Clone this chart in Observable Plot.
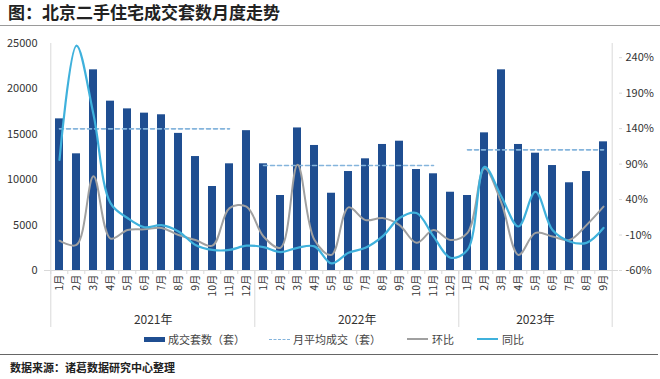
<!DOCTYPE html>
<html><head><meta charset="utf-8">
<script src="https://cdn.jsdelivr.net/npm/d3@7"></script>
<script src="https://cdn.jsdelivr.net/npm/@observablehq/plot@0.6"></script>
<style>
html,body{margin:0;padding:0;background:#fff;}
body{width:660px;height:379px;position:relative;overflow:hidden;font-family:"Noto Sans CJK SC","Noto Sans",sans-serif;color:#333;}
#title{position:absolute;left:0;top:0;width:660px;height:25px;border-bottom:1.5px solid #9a9a9a;}
#title span{position:absolute;left:8px;top:2px;font-size:17px;font-weight:bold;color:#222;line-height:20px;}
#chart{position:absolute;left:0;top:28px;}
.lg{position:absolute;top:331px;height:16px;display:flex;align-items:center;font-size:11px;color:#444;white-space:nowrap;}
.sw{display:inline-block;width:21px;margin-right:3px;}
#bottomline{position:absolute;left:0;top:354px;width:658px;border-top:1.5px solid #666;}
#source{position:absolute;left:10px;top:359px;font-size:11px;font-weight:bold;color:#222;line-height:16px;}
</style></head>
<body>
<div id="title"><span>图：北京二手住宅成交套数月度走势</span></div>
<div id="chart"></div>
<div class="lg" style="left:144px"><span class="sw" style="height:5px;background:#1f4e91"></span>成交套数（套）</div>
<div class="lg" style="left:269px"><span class="sw" style="border-top:1.5px dashed #84b4dc"></span>月平均成交（套）</div>
<div class="lg" style="left:407px"><span class="sw" style="border-top:2px solid #a0a0a0;margin-right:4px"></span>环比</div>
<div class="lg" style="left:477px"><span class="sw" style="border-top:2px solid #3fb1dc;margin-right:4px"></span>同比</div>
<div id="bottomline"></div>
<div id="source">数据来源：诸葛数据研究中心整理</div>
<script>
// ---- data ----
const years = [2021, 2022, 2023];
const yearLabels = ["2021年", "2022年", "2023年"];
const monthsPerYear = [12, 12, 9];
const monthLabels = ["1月","2月","3月","4月","5月","6月","7月","8月","9月","10月","11月","12月"];
// 成交套数（套）
const volume = [16700, 12850, 22100, 18650, 17800, 17330, 17150, 15100, 12550, 9250, 11750, 15400,
                11750, 8260, 15700, 13770, 8510, 10900, 12300, 13880, 14240, 11120, 10650, 8620,
                8260, 15160, 22100, 13880, 12920, 11560, 9660, 10900, 14170];
// 环比 (%)
const mom = [-18, -24, 73, -15, -3, -2, 0, -10, -17, -25, 28, 30,
             -12, -28, 89, -17, -38, 29, 11, 14, 4, -21, -3, -17,
             -7, 84, 35, -38, -7, -12, -17, 4, 30];
// 同比 (%)
const yoy = [96, 257, 160, 35, 14, 1, 4, -5, -24, -31, -31, -25,
             -27, -34, -28, -26, -50, -35, -28, -12, 14, 21, -12, -42,
             -31, 86, 44, 2, 51, -3, -19, -21, 0];
// 月平均成交（套）
const yearAvg = [15600, 11560, 13290];
const avgLastMonth = [11, 11, 9];
const leftTicks = [0, 5000, 10000, 15000, 20000, 25000];
const rightTicks = [-60, -10, 40, 90, 140, 190, 240];
const leftDomain = [0, 25000];
const rightDomain = [-60, 260];

// ---- build tables ----
const key = (y, m) => `${y}-${String(m).padStart(2, "0")}`;
const rows = [];
let idx = 0;
years.forEach((y, yi) => {
  for (let m = 1; m <= monthsPerYear[yi]; m++) {
    rows.push({key: key(y, m), year: y, label: monthLabels[m - 1], volume: volume[idx], mom: mom[idx], yoy: yoy[idx]});
    idx++;
  }
});
const keys = rows.map(r => r.key);
const labelOf = new Map(rows.map(r => [r.key, r.label]));
const avgPts = years.flatMap((y, i) => [
  {year: y, key: key(y, 1), v: yearAvg[i]},
  {year: y, key: key(y, avgLastMonth[i]), v: yearAvg[i]}
]);
const toLeft = p => (p - rightDomain[0]) / (rightDomain[1] - rightDomain[0]) * (leftDomain[1] - leftDomain[0]);
const fromLeft = v => v / (leftDomain[1] - leftDomain[0]) * (rightDomain[1] - rightDomain[0]) + rightDomain[0];

// ---- layout ----
const W = 660, H = 302, mT = 15, mB = 60, mL = 44, mR = 42;
const plotH = H - mT - mB;
const step = (W - mL - mR) / keys.length;
const py = px => -px * (leftDomain[1] - leftDomain[0]) / plotH; // pixels below the baseline in y units
const yearStarts = years.map(y => key(y, 1));
const lineCol = "#d9d9d9";

const yearMarks = years.map((y, i) => {
  const c = (monthsPerYear[i] - 1) / 2;
  return Plot.text([yearLabels[i]], {
    x: () => key(y, Math.floor(c) + 1), dx: (c - Math.floor(c)) * step,
    y: py(50), text: d => d, fontSize: 12, fill: "#333"
  });
});

const chart = Plot.plot({
  width: W, height: H,
  marginTop: mT, marginBottom: mB, marginLeft: mL, marginRight: mR,
  style: {fontFamily: "'Noto Sans CJK SC', 'Noto Sans', sans-serif", fontSize: "11px", color: "#333", background: "transparent"},
  x: {type: "band", domain: keys, paddingInner: 0.54, paddingOuter: 0.27, axis: null},
  y: {domain: leftDomain, axis: null},
  marks: [
    Plot.ruleY([0], {stroke: lineCol}),
    Plot.ruleX([keys[0]], {dx: -step / 2, y1: py(57), y2: leftDomain[1], stroke: lineCol}),
    Plot.ruleX([keys[keys.length - 1]], {dx: step / 2, y1: py(57), y2: leftDomain[1], stroke: lineCol}),
    Plot.ruleX(yearStarts.slice(1), {dx: -step / 2, y1: py(57), y2: 0, stroke: lineCol}),
    Plot.ruleX(keys, {dx: -step / 2, y1: py(4), y2: 0, stroke: lineCol}),
    Plot.barY(rows, {x: "key", y: "volume", fill: "#1f4e91"}),
    Plot.line(avgPts, {x: "key", y: "v", z: "year", stroke: "#84b4dc", strokeWidth: 1.6, strokeDasharray: "4,3"}),
    Plot.line(rows, {x: "key", y: d => toLeft(d.mom), stroke: "#a0a0a0", strokeWidth: 2, curve: "catmull-rom"}),
    Plot.line(rows, {x: "key", y: d => toLeft(d.yoy), stroke: "#3fb1dc", strokeWidth: 2.2, curve: "catmull-rom"}),
    Plot.axisY(leftTicks, {anchor: "left", tickSize: 0, tickPadding: 7, tickFormat: d => String(d), label: null, fontSize: 11}),
    Plot.axisY(rightTicks.map(toLeft), {anchor: "right", tickSize: 3, tickPadding: 4, stroke: lineCol, tickFormat: d => Math.round(fromLeft(d)) + "%", label: null, fontSize: 11}),
    Plot.axisX(keys, {anchor: "bottom", tickSize: 0, tickPadding: 4, tickRotate: -90, tickFormat: k => labelOf.get(k), label: null, fontSize: 10.5}),
    ...yearMarks
  ]
});
document.getElementById("chart").appendChild(chart);
</script>
</body></html>
